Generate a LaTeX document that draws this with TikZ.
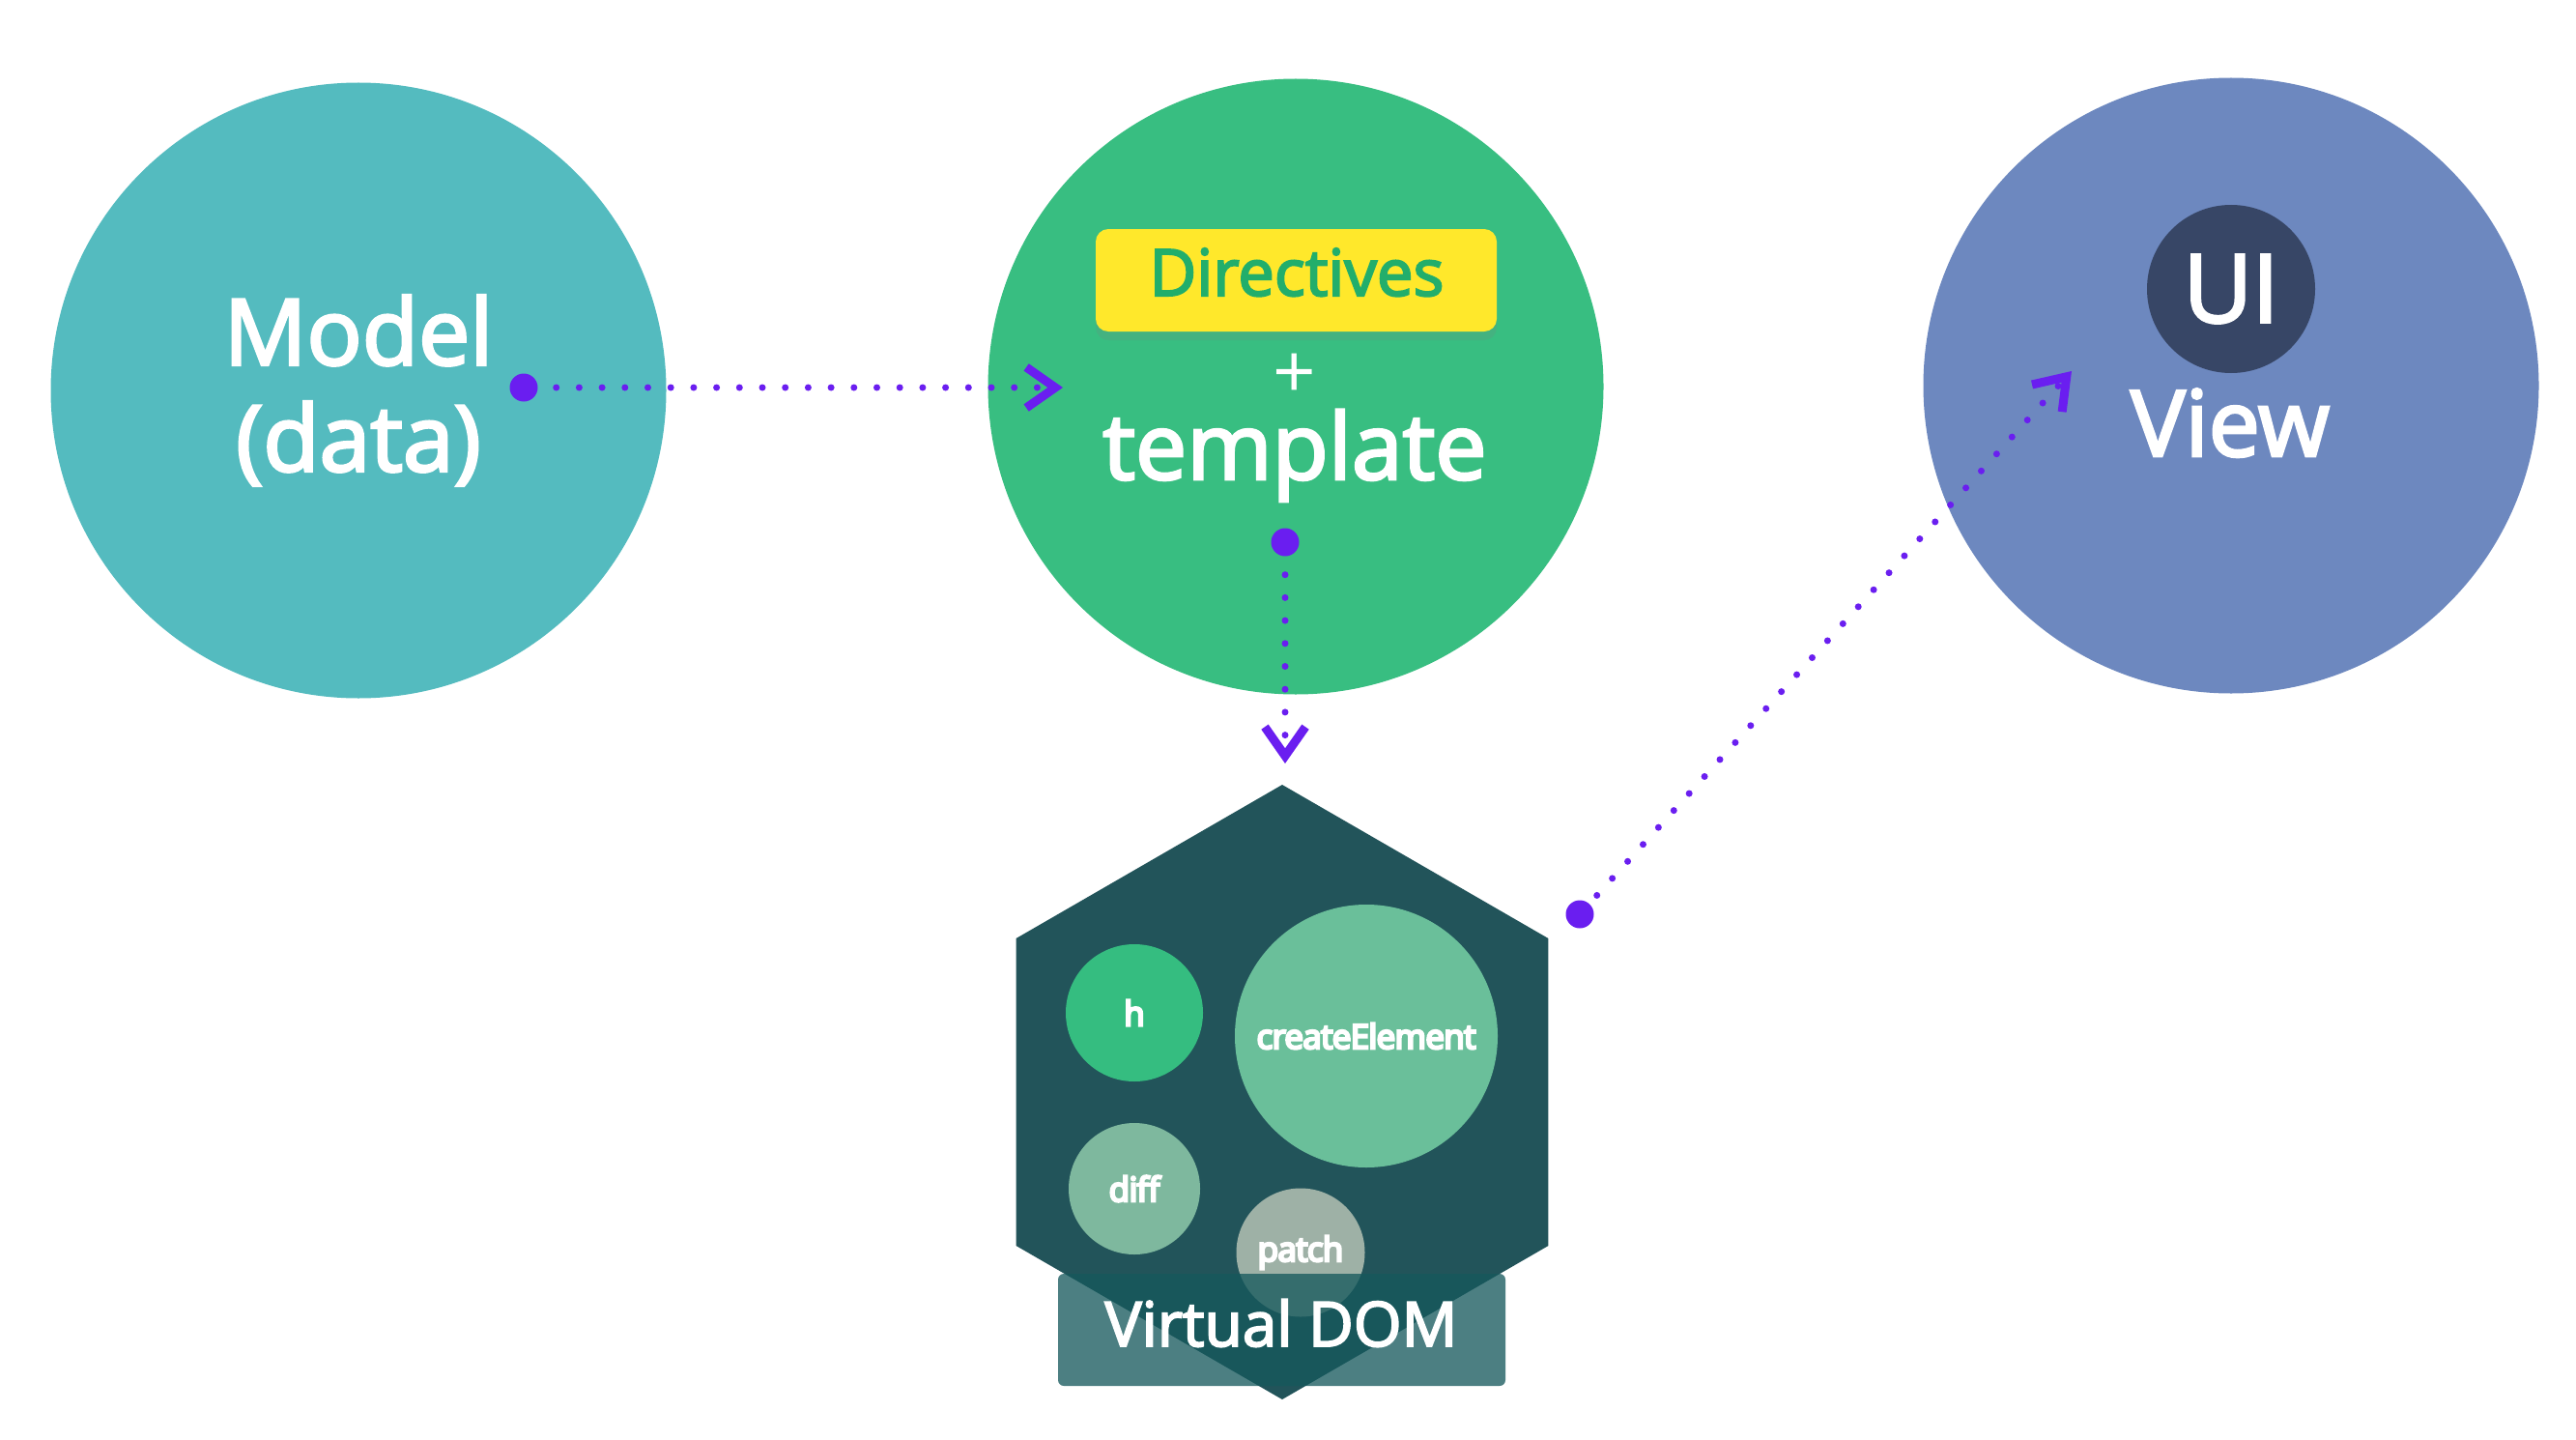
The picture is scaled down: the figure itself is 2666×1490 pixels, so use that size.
\documentclass[tikz,border=0pt]{standalone}
\usepackage{fontspec}
\setmainfont{Open Sans}
\newfontfamily\medf[FakeBold=3]{Open Sans}
\newfontfamily\lblf[LetterSpace=-2,FakeBold=7]{Open Sans}
\usetikzlibrary{arrows.meta,shadows}
\definecolor{modelc}{HTML}{54BBBF}
\definecolor{tempc}{HTML}{38BE81}
\definecolor{viewc}{HTML}{6D88BF}
\definecolor{uic}{HTML}{374666}
\definecolor{hexc}{HTML}{22545A}
\definecolor{purp}{HTML}{6A1EF0}
\definecolor{dyel}{HTML}{FFE82B}
\definecolor{dgreen}{HTML}{22AE6B}
\definecolor{hc}{HTML}{35BD80}
\definecolor{cec}{HTML}{6ABF9A}
\definecolor{diffc}{HTML}{7EB89E}
\definecolor{patchc}{HTML}{9EB1A6}
\definecolor{vdc}{HTML}{15585C}
\begin{document}
\begin{tikzpicture}[x=1pt,y=-1pt,
  bigc/.style={circle, inner sep=0pt, minimum size=637pt, text=white},
  smallc/.style={circle, inner sep=0pt, text=white, font=\lblf\fontsize{35}{40}\selectfont},
  dotn/.style={circle, fill=purp, inner sep=0pt, minimum size=29pt},
  dotline/.style={draw=purp, line width=7pt, line cap=round, dash pattern=on 0pt off 23.7pt, dash phase=4.7pt,
     -{Straight Barb[length=30pt, width=42pt, line width=9pt]}},
  bigtext/.style={anchor=base, text=white, font=\medf\fontsize{95}{110}\selectfont}]
\useasboundingbox (0,0) rectangle (2666,1490);
\fill[white] (0,0) rectangle (2666,1490);

% big circles
\node[bigc, fill=modelc, align=center, font=\medf\fontsize{95}{110}\selectfont] (model) at (371,404) {Model\\(data)};
\node[bigc, fill=tempc] (tmpl) at (1341,400) {};
\node[bigc, fill=viewc] (view) at (2309,399) {};

% template circle contents
\node[fill=dyel, rounded corners=13pt, minimum width=415pt, minimum height=106pt, inner sep=0pt,
      drop shadow={opacity=0.18, shadow xshift=0pt, shadow yshift=-9pt}] (dir) at (1341.5,290) {};
\node[anchor=base, text=dgreen, font=\medf\fontsize{67}{70}\selectfont] (dirt) at (1342,306) {Directives};
\node[text=white, inner sep=0pt, font=\fontsize{78}{78}\selectfont] (plus) at (1340,389) {+};
\node[bigtext] (tmplt) at (1340,496) {template};

% view circle contents
\node[circle, fill=uic, inner sep=0pt, minimum size=174pt, text=white, font=\medf\fontsize{98}{100}\selectfont] (ui) at (2309,299) {UI};
\node[bigtext] (viewt) at (2308,472) {View};

% hexagon
\fill[hexc] (1327,812) -- (1602.4,971) -- (1602.4,1289) -- (1327,1448) -- (1051.6,1289) -- (1051.6,971) -- cycle;
\node[smallc, fill=hc, minimum size=142pt] (h) at (1174,1048) {h};
\node[smallc, fill=cec, minimum size=272pt] (ce) at (1414,1072) {createElement};
\node[smallc, fill=diffc, minimum size=136pt] (diff) at (1174,1230) {diff};
\node[smallc, fill=patchc, minimum size=133pt] (patch) at (1346,1296) {patch};
\node[fill=vdc, fill opacity=0.76, rounded corners=6pt, minimum width=463pt, minimum height=116pt, inner sep=0pt] (vbox) at (1326.5,1376) {};
\node[anchor=base, text=white, font=\medf\fontsize{64}{70}\selectfont] (vdt) at (1326,1393) {Virtual DOM};

% connectors
\node[dotn] (dm) at (542,401) {};
\coordinate (tm) at (1100,401);
\draw[dotline] (dm) -- (tm);

\node[dotn] (dt) at (1330,561) {};
\coordinate (tt) at (1330,790);
\draw[dotline] (dt) -- (tt);

\node[dotn] (dv) at (1635,946) {};
\coordinate (tv) at (2144,384);
\draw[dotline, dash phase=12pt] (dv) -- (tv);
\end{tikzpicture}
\end{document}
